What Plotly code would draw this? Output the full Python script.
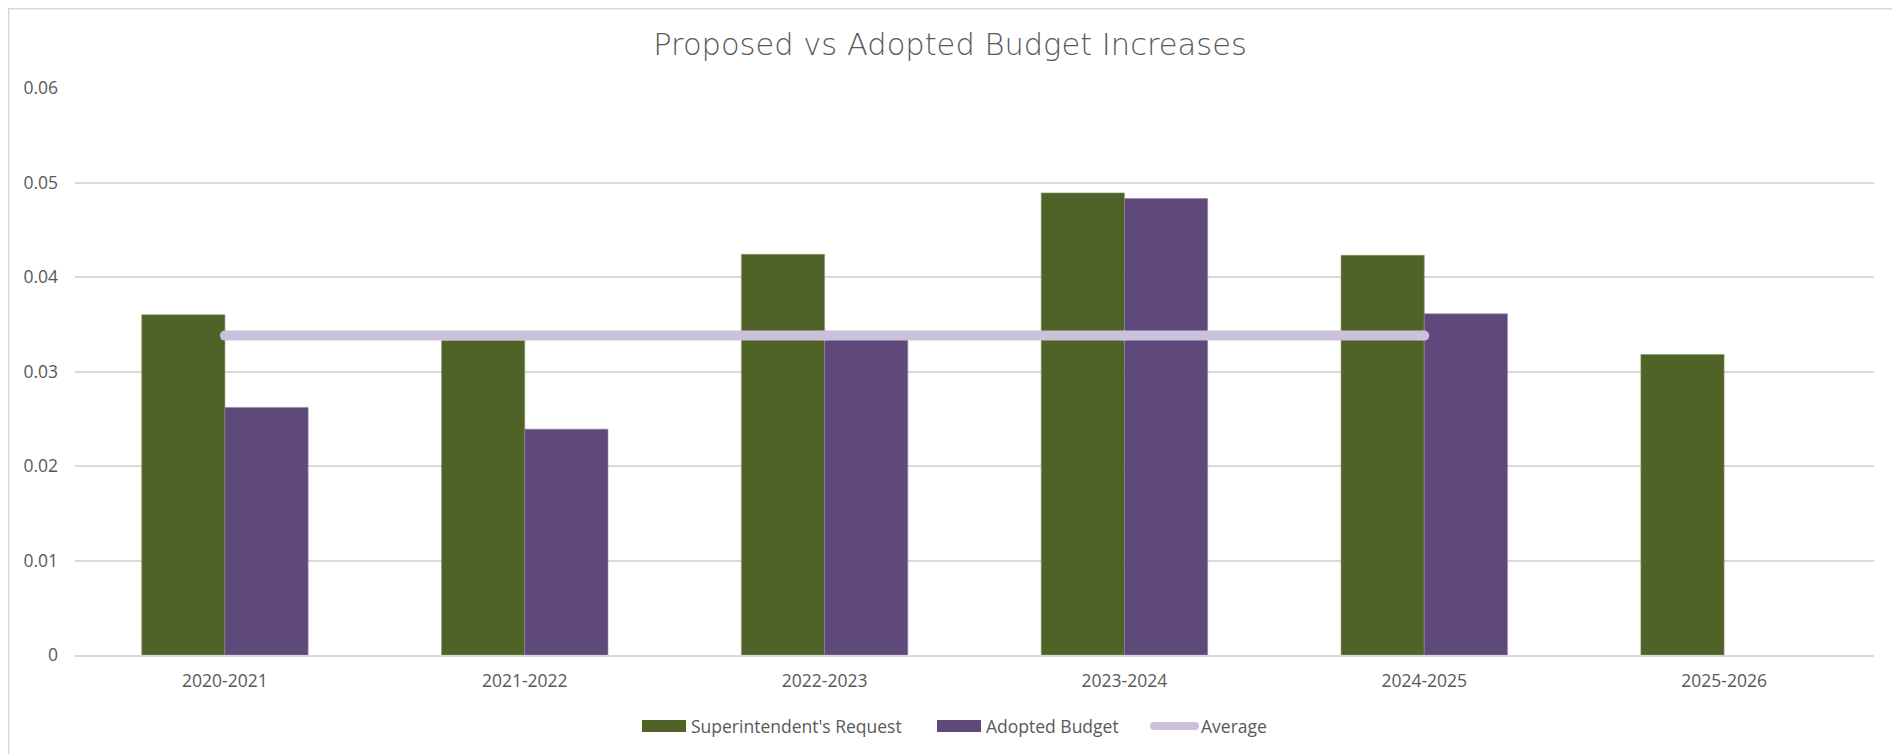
import plotly.graph_objects as go

categories = ["2020-2021", "2021-2022", "2022-2023", "2023-2024", "2024-2025", "2025-2026"]
superintendent_request = [0.0360, 0.0333, 0.0424, 0.0489, 0.0423, 0.0318]
adopted_budget = [0.0262, 0.0239, 0.0335, 0.0483, 0.0361, None]
average_categories = ["2020-2021", "2021-2022", "2022-2023", "2023-2024", "2024-2025"]
average_values = [0.0338, 0.0338, 0.0338, 0.0338, 0.0338]
y_tick_values = [0, 0.01, 0.02, 0.03, 0.04, 0.05, 0.06]
y_tick_labels = ["0", "0.01", "0.02", "0.03", "0.04", "0.05", "0.06"]
series_names = ["Superintendent's Request", "Adopted Budget", "Average"]

GREEN = "#4F6228"
PURPLE = "#5F497A"
LAVENDER = "#CCC1DA"
GRID = "#D9D9D9"
TEXT = "#595959"
FONT = "Open Sans"
FS = 17.5

W, H = 1900, 754
OFF = 8  # page body offset
ML, MR, MT, MB = 67, 34, 80, 107
PW = W - ML - MR
PH = H - MT - MB


def sx(px):
    """screen x -> paper x"""
    return (px - OFF - ML) / PW


def sy(py):
    """screen y -> paper y"""
    return (H - MB - (py - OFF)) / PH


fig = go.Figure()
fig.add_trace(go.Bar(
    x=categories, y=superintendent_request, name=series_names[0],
    marker=dict(color=GREEN, line=dict(width=0.6, color="#8a9a6a")),
    showlegend=False,
))
fig.add_trace(go.Bar(
    x=categories, y=adopted_budget, name=series_names[1],
    marker=dict(color=PURPLE, line=dict(width=0.6, color="#8f7fa8")),
    showlegend=False,
))
fig.add_trace(go.Scatter(
    x=average_categories, y=average_values, name=series_names[2],
    mode="lines+markers",
    line=dict(color=LAVENDER, width=10),
    marker=dict(color=LAVENDER, size=10),
    showlegend=False,
))

shapes = []
# chart border
shapes.append(dict(
    type="rect", xref="paper", yref="paper",
    x0=sx(OFF + 0.75), x1=sx(1897), y0=sy(770), y1=sy(OFF + 0.75),
    line=dict(color=GRID, width=1.5), fillcolor="rgba(0,0,0,0)", layer="below",
))
# custom legend
LEG_Y = 726
shapes.append(dict(type="rect", xref="paper", yref="paper",
                   x0=sx(642), x1=sx(686), y0=sy(732), y1=sy(720),
                   line=dict(width=0), fillcolor=GREEN))
shapes.append(dict(type="rect", xref="paper", yref="paper",
                   x0=sx(937), x1=sx(981), y0=sy(732), y1=sy(720),
                   line=dict(width=0), fillcolor=PURPLE))
shapes.append(dict(type="line", xref="paper", yref="paper",
                   x0=sx(1154), x1=sx(1195), y0=sy(LEG_Y), y1=sy(LEG_Y),
                   line=dict(color=LAVENDER, width=8)))
for cx in (1154, 1195):
    shapes.append(dict(type="circle", xref="paper", yref="paper",
                       x0=sx(cx - 4), x1=sx(cx + 4), y0=sy(LEG_Y + 4), y1=sy(LEG_Y - 4),
                       line=dict(width=0), fillcolor=LAVENDER))

annotations = []
for name, x_start in zip(series_names, (689, 984, 1199)):
    annotations.append(dict(
        text=name, xref="paper", yref="paper", x=sx(x_start), y=sy(LEG_Y),
        xanchor="left", yanchor="middle", showarrow=False,
        font=dict(family=FONT, size=FS, color=TEXT),
    ))

fig.update_layout(
    width=W, height=H,
    margin=dict(l=ML, r=MR, t=MT, b=MB),
    paper_bgcolor="white", plot_bgcolor="white",
    barmode="group", bargap=0.445, bargroupgap=0,
    title=dict(
        text="Proposed vs Adopted Budget Increases",
        x=sx(950), xanchor="center", xref="paper",
        y=1 - (44 - OFF) / H, yanchor="middle", yref="container",
        font=dict(family="DejaVu Sans", size=30.5, color=TEXT, weight=300),
    ),
    font=dict(family=FONT, size=FS, color=TEXT),
    showlegend=False,
    shapes=shapes,
    annotations=annotations,
    xaxis=dict(
        showgrid=False, showline=True, linecolor=GRID, linewidth=1.5,
        ticks="", tickfont=dict(family=FONT, size=FS, color=TEXT),
        ticklabelstandoff=9, fixedrange=True,
    ),
    yaxis=dict(
        range=[0, 0.06], tickvals=y_tick_values, ticktext=y_tick_labels,
        showgrid=True, gridcolor=GRID, gridwidth=1.5, zeroline=False,
        showline=False, ticks="", tickfont=dict(family=FONT, size=FS, color=TEXT),
        ticklabelstandoff=16,
    ),
)

fig.write_html("out.html")
